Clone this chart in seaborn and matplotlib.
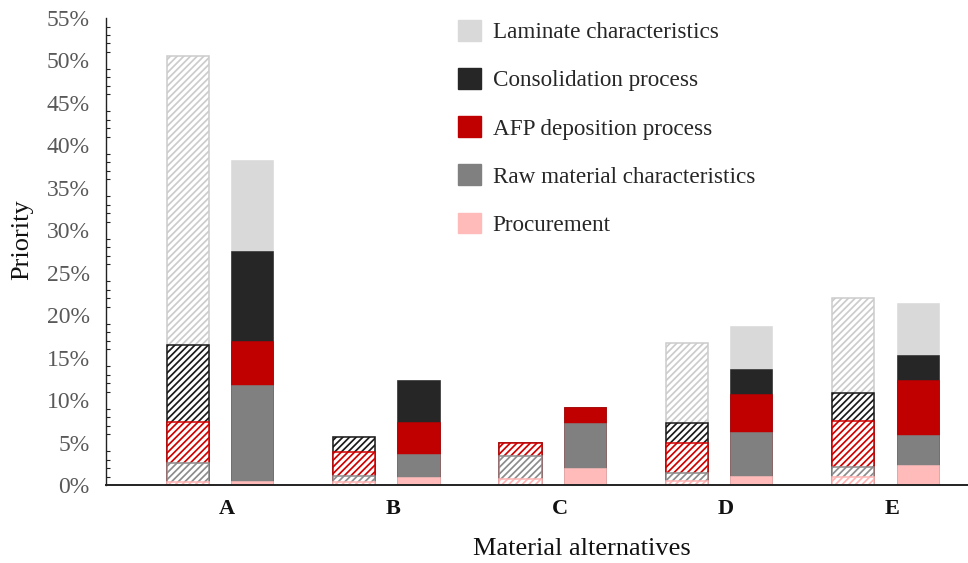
import numpy as np
import pandas as pd
import matplotlib
matplotlib.use("Agg")
import matplotlib.pyplot as plt
import seaborn as sns
from matplotlib.patches import Patch
from matplotlib.ticker import MultipleLocator, PercentFormatter

categories = ["A", "B", "C", "D", "E"]
factors = [
    "Procurement",
    "Raw material characteristics",
    "AFP deposition process",
    "Consolidation process",
    "Laminate characteristics",
]

# left bars (hatched), priority in %
hatched_procurement = [0.4, 0.4, 0.7, 0.5, 0.9]
hatched_raw_material = [2.2, 0.7, 2.7, 0.9, 1.2]
hatched_afp = [4.8, 2.8, 1.6, 3.5, 5.4]
hatched_consolidation = [9.1, 1.8, 0.0, 2.4, 3.3]
hatched_laminate = [34.0, 0.0, 0.0, 9.4, 11.2]

# right bars (solid), priority in %
solid_procurement = [0.5, 1.0, 2.0, 1.1, 2.4]
solid_raw_material = [11.3, 2.6, 5.3, 5.1, 3.5]
solid_afp = [5.2, 3.8, 1.9, 4.5, 6.5]
solid_consolidation = [10.6, 5.0, 0.0, 3.0, 2.9]
solid_laminate = [10.7, 0.0, 0.0, 5.0, 6.1]

fill_colors = {
    "Procurement": "#ffbaba",
    "Raw material characteristics": "#808080",
    "AFP deposition process": "#c00000",
    "Consolidation process": "#262626",
    "Laminate characteristics": "#d9d9d9",
}
hatch_colors = {
    "Procurement": "#ffb3b3",
    "Raw material characteristics": "#8c8c8c",
    "AFP deposition process": "#d00000",
    "Consolidation process": "#1a1a1a",
    "Laminate characteristics": "#cccccc",
}

BAR_W = 0.253
OFF_HATCHED = -0.234
OFF_SOLID = 0.153

sns.set_theme(style="white")
plt.rcParams["font.family"] = ["Liberation Serif", "DejaVu Serif"]
plt.rcParams["hatch.linewidth"] = 1.25


def draw_stack(ax, series, offset, hatched):
    cum = np.cumsum(np.array(series, dtype=float), axis=0)
    # draw cumulative tops from the highest layer down, each one covers the layer below
    for k in reversed(range(len(factors))):
        df = pd.DataFrame({"pos": np.arange(len(categories)) + offset, "top": cum[k]})
        sns.barplot(data=df, x="pos", y="top", native_scale=True, orient="x",
                    width=BAR_W, errorbar=None, ax=ax)
        name = factors[k]
        for bar in ax.containers[-1]:
            if hatched:
                bar.set(facecolor="white", edgecolor=hatch_colors[name], hatch="/////", linewidth=1.1)
            else:
                bar.set(facecolor=fill_colors[name], edgecolor=fill_colors[name], linewidth=0.4)


fig, ax = plt.subplots(figsize=(9.68, 5.63), dpi=100)
fig.subplots_adjust(left=0.1095, right=1.0, bottom=0.1385, top=0.968)

draw_stack(ax, [hatched_procurement, hatched_raw_material, hatched_afp,
                hatched_consolidation, hatched_laminate], OFF_HATCHED, True)
draw_stack(ax, [solid_procurement, solid_raw_material, solid_afp,
                solid_consolidation, solid_laminate], OFF_SOLID, False)

ax.set_xlim(-0.725, 4.455)
ax.set_ylim(0, 55)
ax.set_xticks(range(len(categories)))
ax.set_xticklabels(categories, fontsize=16, fontweight="bold", color="#111111")
ax.tick_params(axis="x", length=0, pad=10)

ax.yaxis.set_major_locator(MultipleLocator(5))
ax.yaxis.set_minor_locator(MultipleLocator(1))
ax.yaxis.set_major_formatter(PercentFormatter(decimals=0))
ax.tick_params(axis="y", which="major", direction="inout", length=7.5, width=1,
               color="#222222", labelsize=17, labelcolor="#595959", pad=8)
ax.tick_params(axis="y", which="minor", direction="in", length=3, width=0.8,
               color="#222222", left=True)

for side in ["top", "right"]:
    ax.spines[side].set_visible(False)
ax.spines["left"].set_color("#222222")
ax.spines["left"].set_linewidth(1.0)
ax.spines["bottom"].set_color("#222222")
ax.spines["bottom"].set_linewidth(1.4)

ax.set_xlabel("Material alternatives", fontsize=19, color="#111111")
ax.xaxis.label.set_va("center")
ax.xaxis.set_label_coords(0.552, -0.137)
ax.set_ylabel("Priority", fontsize=19, color="#111111")
ax.yaxis.label.set_va("center")
ax.yaxis.set_label_coords(-0.0975, 0.525)

handles = [Patch(facecolor=fill_colors[f], edgecolor=fill_colors[f]) for f in reversed(factors)]
ax.legend(handles, list(reversed(factors)), loc="upper left",
          bbox_to_anchor=(458 / 968, 1 - 20 / 563), bbox_transform=fig.transFigure,
          frameon=False, fontsize=16.7, handlelength=1.0, handleheight=1.0,
          handletextpad=0.5, labelspacing=1.07, borderpad=0, borderaxespad=0)

fig.savefig("out.png", dpi=100)
